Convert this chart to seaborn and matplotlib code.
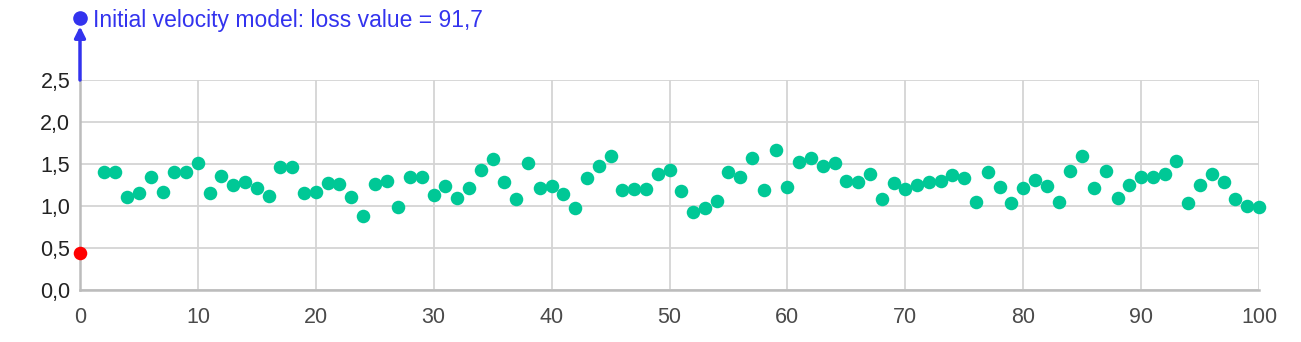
import numpy as np
import pandas as pd
import matplotlib
matplotlib.use('Agg')
import matplotlib.pyplot as plt
import matplotlib.transforms as mtransforms
from matplotlib.ticker import FuncFormatter
import seaborn as sns

# loss values per iteration (iteration 1 has no point)
iterations = [2, 3, 4, 5, 6, 7, 8, 9, 10,
              11, 12, 13, 14, 15, 16, 17, 18, 19, 20,
              21, 22, 23, 24, 25, 26, 27, 28, 29, 30,
              31, 32, 33, 34, 35, 36, 37, 38, 39, 40,
              41, 42, 43, 44, 45, 46, 47, 48, 49, 50,
              51, 52, 53, 54, 55, 56, 57, 58, 59, 60,
              61, 62, 63, 64, 65, 66, 67, 68, 69, 70,
              71, 72, 73, 74, 75, 76, 77, 78, 79, 80,
              81, 82, 83, 84, 85, 86, 87, 88, 89, 90,
              91, 92, 93, 94, 95, 96, 97, 98, 99, 100]
loss = [1.40, 1.40, 1.11, 1.15, 1.34, 1.17, 1.40, 1.40, 1.51,
        1.15, 1.36, 1.25, 1.29, 1.22, 1.12, 1.46, 1.47, 1.16, 1.17,
        1.27, 1.26, 1.11, 0.88, 1.26, 1.30, 0.99, 1.34, 1.35, 1.13,
        1.24, 1.10, 1.21, 1.43, 1.56, 1.28, 1.08, 1.51, 1.22, 1.24,
        1.14, 0.98, 1.33, 1.48, 1.60, 1.19, 1.20, 1.20, 1.38, 1.43,
        1.18, 0.93, 0.98, 1.06, 1.40, 1.35, 1.57, 1.19, 1.67, 1.23,
        1.52, 1.57, 1.48, 1.51, 1.30, 1.29, 1.38, 1.08, 1.27, 1.20,
        1.25, 1.29, 1.30, 1.37, 1.33, 1.05, 1.41, 1.23, 1.04, 1.21,
        1.31, 1.24, 1.05, 1.42, 1.59, 1.21, 1.42, 1.09, 1.25, 1.35,
        1.35, 1.38, 1.54, 1.04, 1.25, 1.38, 1.29, 1.08, 1.00, 0.99]
best_x = [0]
best_loss = [0.44]
initial_loss = 91.7

df = pd.DataFrame({'iteration': iterations, 'loss': loss})
best_df = pd.DataFrame({'iteration': best_x, 'loss': best_loss})

sns.set_style('white')
plt.rcParams['font.family'] = ['Liberation Sans', 'DejaVu Sans']

fig = plt.figure(figsize=(13.01, 3.42), dpi=100)
ax = fig.add_axes([80 / 1301, 1 - 290 / 342, (1259 - 80) / 1301, 210 / 342])

sns.scatterplot(data=df, x='iteration', y='loss', color='#00c896', s=95,
                linewidth=0, ax=ax, zorder=3, clip_on=False)
sns.scatterplot(data=best_df, x='iteration', y='loss', color='#ff0000', s=95,
                linewidth=0, ax=ax, zorder=4, clip_on=False)

ax.set_xlim(0, 100)
ax.set_ylim(0, 2.5)
ax.set_xticks(np.arange(0, 101, 10))
ax.set_yticks(np.arange(0, 2.51, 0.5))
comma = FuncFormatter(lambda v, p: f'{v:.1f}'.replace('.', ','))
ax.yaxis.set_major_formatter(comma)
ax.grid(True, color='#d4d4d4', linewidth=1.3)
ax.set_axisbelow(True)
for s in ['top', 'right']:
    ax.spines[s].set_visible(False)
for s in ['left', 'bottom']:
    ax.spines[s].set_color('#bcbcbc')
    ax.spines[s].set_linewidth(1.8)
ax.tick_params(axis='both', length=0, labelsize=15.5)
ax.tick_params(axis='y', pad=7, labelcolor='#222222')
ax.tick_params(axis='x', pad=12, labelcolor='#4a4a4a')
ax.set_xlabel('')
ax.set_ylabel('')

# off-scale initial value: arrow up from the top edge
blue = '#3333ee'
trans = mtransforms.blended_transform_factory(ax.transData, ax.transAxes)
ax.annotate('', xy=(0, 1.255), xytext=(0, 1.0), xycoords=trans, textcoords=trans,
            arrowprops=dict(arrowstyle='-|>', color=blue, lw=2.5,
                            mutation_scale=16, shrinkA=0, shrinkB=0),
            annotation_clip=False)
ax.plot([0], [1.295], marker='o', color=blue, markersize=9.5, transform=trans,
        clip_on=False, zorder=5)
ax.text(1.1, 1.283, f'Initial velocity model: loss value = {initial_loss}'.replace('.', ','),
        transform=trans, color=blue, fontsize=16.5, va='center', ha='left')

fig.savefig('out.png', dpi=100)
